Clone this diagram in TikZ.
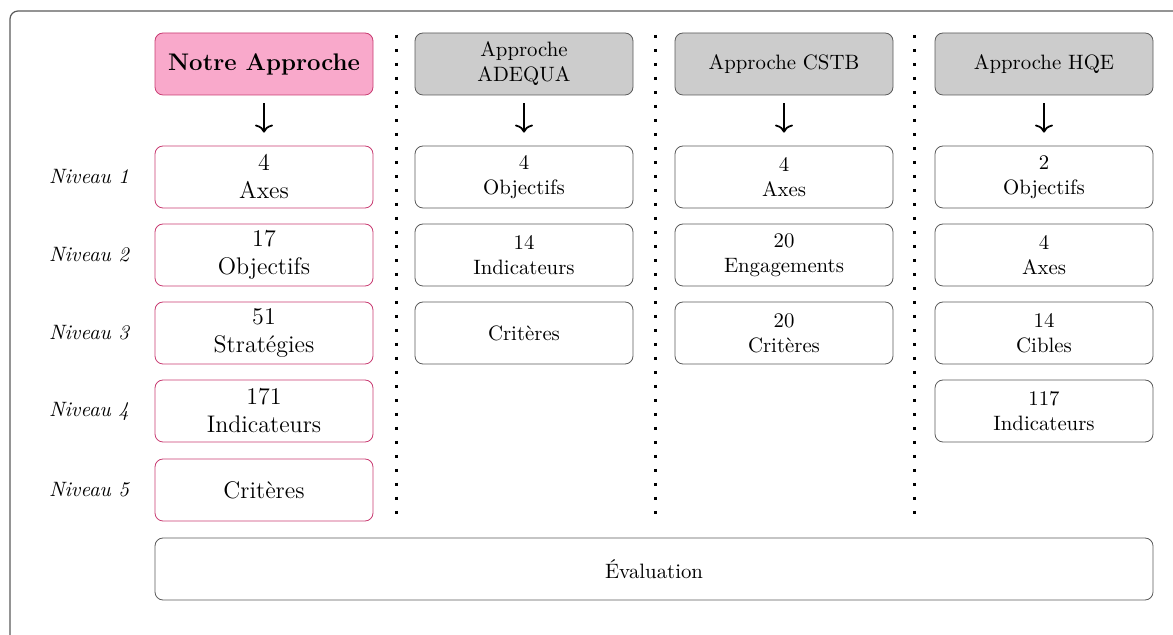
\documentclass[tikz,border=0pt]{standalone}
\usepackage{tikz}
\usetikzlibrary{arrows.meta}
\usepackage{xcolor}

\definecolor{rosefond}{HTML}{F9A9CB}
\definecolor{rosebord}{HTML}{C83C72}
\definecolor{grisfond}{HTML}{CCCCCC}
\definecolor{grisbord}{HTML}{5A5A5A}

\newcommand{\taille}{\fontsize{10.4}{12.5}\selectfont}

\tikzset{
  boite/.style={draw=grisbord, rounded corners=4pt, align=center,
    minimum width=109pt, minimum height=31pt, inner sep=0pt, font=\taille},
  boiterose/.style={boite, draw=rosebord, font=\large},
  titrerose/.style={boiterose, fill=rosefond, font=\large\bfseries},
  titregris/.style={boite, fill=grisfond},
  fleche/.style={-{To[length=4pt,width=9pt]}, line width=0.9pt,
    shorten <=4pt, shorten >=6.5pt},
  separation/.style={line width=1.5pt, dash pattern=on 1.5pt off 5.5pt},
  niveau/.style={font=\taille\itshape}
}

\begin{document}
\begin{tikzpicture}[x=0.5pt,y=-0.5pt]
        \def\ca{264}
        \def\cb{524}
        \def\cc{784}
        \def\cd{1044}

        \useasboundingbox (0,0) rectangle (1173,635);
        \clip (0,0) rectangle (1173,635);

        %------------------
        % cadre
        %------------------
        \draw[grisbord, line width=0.6pt, rounded corners=4pt] (10,11) rectangle (1200,680);

        %------------------
        % en-tetes
        %------------------
        \node[titrerose] (notre) at (\ca,64) {Notre Approche};
        \node[titregris] (adequa) at (\cb,64) {Approche\\ADEQUA};
        \node[titregris] (cstb) at (\cc,64) {Approche CSTB};
        \node[titregris] (hqe) at (\cd,64) {Approche HQE};

        %------------------
        % niveaux
        %------------------
        \foreach \i/\y in {1/177,2/255,3/333,4/411,5/490}
          \node[niveau] (niv\i) at (89,\y) {Niveau \i};

        % Notre approche
        \node[boiterose] (n1) at (\ca,177) {4\\Axes};
        \node[boiterose] (n2) at (\ca,255) {17\\Objectifs};
        \node[boiterose] (n3) at (\ca,333) {51\\Stratégies};
        \node[boiterose] (n4) at (\ca,411) {171\\Indicateurs};
        \node[boiterose] (n5) at (\ca,490) {Critères};

        % ADEQUA
        \node[boite] (a1) at (\cb,177) {4\\Objectifs};
        \node[boite] (a2) at (\cb,255) {14\\Indicateurs};
        \node[boite] (a3) at (\cb,333) {Critères};

        % CSTB
        \node[boite] (c1) at (\cc,177) {4\\Axes};
        \node[boite] (c2) at (\cc,255) {20\\Engagements};
        \node[boite] (c3) at (\cc,333) {20\\Critères};

        % HQE
        \node[boite] (h1) at (\cd,177) {2\\Objectifs};
        \node[boite] (h2) at (\cd,255) {4\\Axes};
        \node[boite] (h3) at (\cd,333) {14\\Cibles};
        \node[boite] (h4) at (\cd,411) {117\\Indicateurs};

        % evaluation
        \node[boite, minimum width=499pt] (eval) at (654,569) {Évaluation};

        %------------------
        % fleches
        %------------------
        \draw[fleche] (notre) -- (n1);
        \draw[fleche] (adequa) -- (a1);
        \draw[fleche] (cstb) -- (c1);
        \draw[fleche] (hqe) -- (h1);

        %------------------
        % separations (pointilles)
        %------------------
        \foreach \x in {396,655,914}
          \draw[separation] (\x,35) -- (\x,520);
      \end{tikzpicture}
\end{document}
